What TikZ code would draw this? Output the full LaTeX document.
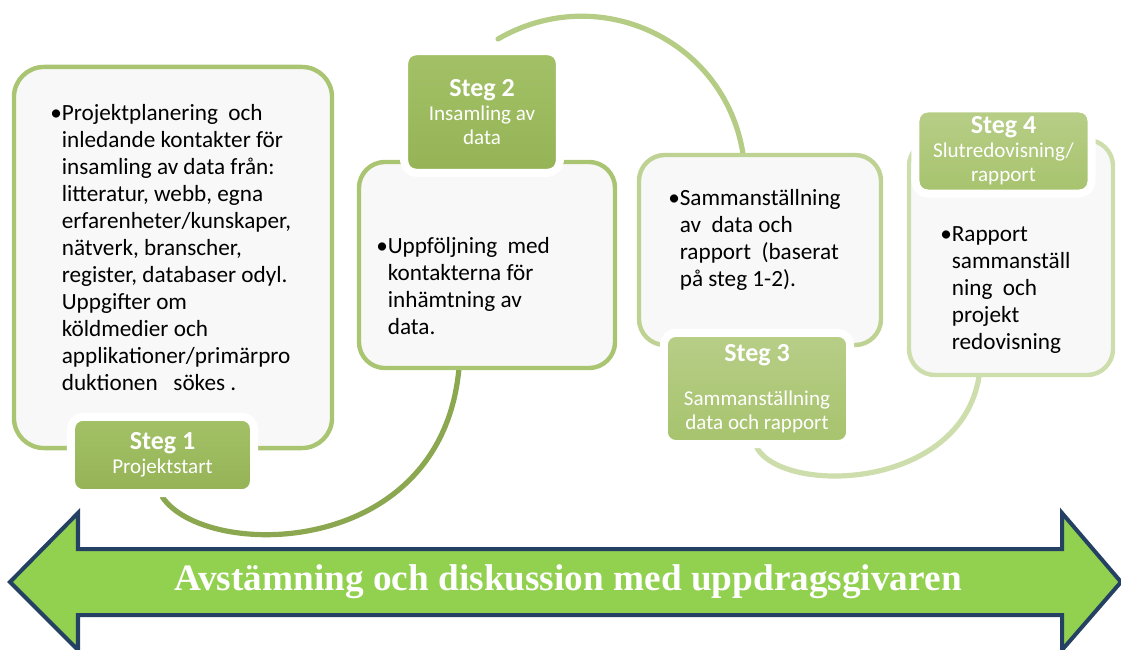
\documentclass[tikz,border=0pt]{standalone}
\usepackage{fontspec}
\setmainfont{Carlito}
\newfontfamily\bannerfont{Liberation Serif}
\usetikzlibrary{shadows,backgrounds}

\definecolor{stepgreen}{RGB}{155,187,89}
\definecolor{bannergreen}{RGB}{146,208,80}
\definecolor{bannerblue}{RGB}{36,64,98}

\tikzset{text_box/.style={draw=stepgreen!85!white, line width=0.11cm, rounded corners=0.65cm, fill=white!97!black, fill opacity=0.9}}
\tikzset{step_label/.style={draw=white, line width=0.2cm, rounded corners=0.3cm, top color=stepgreen!92!white, bottom color=stepgreen!96!black, text=white, align=center, inner sep=0pt, font=\fontsize{15}{17}\selectfont, drop shadow={opacity=0.3, shadow xshift=0.05cm, shadow yshift=-0.08cm}}}
\tikzset{body_text/.style={anchor=base west, inner sep=0pt, align=left, font=\fontsize{16.5}{19.2}\selectfont}}
\tikzset{flow_arc/.style={line width=0.13cm, line cap=round}}

\newcommand{\stegtitle}[1]{{\fontsize{18.5}{21}\selectfont\bfseries #1}}
\newcommand{\bulletpad}{\phantom{\textbullet}}

\begin{document}
\begin{tikzpicture}[x=0.025cm, y=-0.025cm]
  \useasboundingbox (0,0) rectangle (1121,650);
  \clip (0,0) rectangle (1121,650);

  % text boxes
  \draw (173,257.5) node[text_box, minimum width=7.95cm, minimum height=9.525cm, rounded corners=0.75cm] (box1) {};
  \draw (487,265) node[text_box, minimum width=6.4cm, minimum height=5.15cm] (box2) {};
  \draw (760,250) node[text_box, minimum width=6.05cm, minimum height=4.75cm, draw=stepgreen!65!white] (box3) {};
  \draw (1011,257.5) node[text_box, minimum width=5.1cm, minimum height=5.875cm, draw=stepgreen!50!white] (box4) {};

  % box texts (anchored at the last baseline)
  \draw (50,390) node[body_text] (text1) {\textbullet Projektplanering\ \ och\\
    \bulletpad inledande kontakter för\\
    \bulletpad insamling av data från:\\
    \bulletpad litteratur, webb, egna\\
    \bulletpad erfarenheter/kunskaper,\\
    \bulletpad nätverk, branscher,\\
    \bulletpad register, databaser odyl.\\
    \bulletpad Uppgifter om\\
    \bulletpad köldmedier och\\
    \bulletpad applikationer/primärpro\\
    \bulletpad duktionen\ \ \ sökes .};
  \draw (376,334) node[body_text] (text2) {\textbullet Uppföljning\ \ med\\
    \bulletpad kontakterna för\\
    \bulletpad inhämtning av\\
    \bulletpad data.};
  \draw (668,286) node[body_text] (text3) {\textbullet Sammanställning\\
    \bulletpad av\ \ data och\\
    \bulletpad rapport\ \ (baserat\\
    \bulletpad på steg 1-2).};
  \draw (940,349) node[body_text] (text4) {\textbullet Rapport\\
    \bulletpad sammanställ\\
    \bulletpad ning\ \ och\\
    \bulletpad projekt\\
    \bulletpad redovisning};

  % step labels
  \draw (162.5,455) node[step_label, minimum width=4.575cm, minimum height=1.91cm] (step1) {\stegtitle{Steg 1}\\Projektstart};
  \draw (482,112) node[step_label, minimum width=3.89cm, minimum height=3.04cm] (step2) {\stegtitle{Steg 2}\\Insamling av\\data};
  \draw (757,388.5) node[step_label, minimum width=4.66cm, minimum height=2.78cm, top color=stepgreen!72!white, bottom color=stepgreen!88!white] (step3) {\stegtitle{Steg 3}\\[14pt]Sammanställning\\data och rapport};
  \draw (1003.5,151) node[step_label, minimum width=4.4cm, minimum height=2.125cm, top color=stepgreen!72!white, bottom color=stepgreen!88!white] (step4) {\stegtitle{Steg 4}\\Slutredovisning/\\rapport};

  % connecting arcs
  \coordinate (arc_start) at (498,39);
  \begin{scope}[on background layer]
    \draw[flow_arc, stepgreen!90!black] (step1.south) .. controls (205,560) and (440,560) .. (box2.255);
    \draw[flow_arc, stepgreen!75!white] (arc_start) .. controls (598,-19) and (724,39) .. (box3.100);
    \draw[flow_arc, stepgreen!50!white] (step3.south) .. controls (785,495) and (960,490) .. (box4.255);
  \end{scope}

  % banner arrow
  \draw[fill=bannergreen, draw=bannerblue, line width=0.1cm, line join=miter]
    (10,582) -- (78,513) -- (78,549) -- (1062,549) -- (1062,513) -- (1121,582)
    -- (1062,650) -- (1062,615) -- (78,615) -- (78,650) -- cycle;
  \draw (568,582) node[text=white, font=\bannerfont\bfseries\fontsize{26.5}{30}\selectfont] (banner) {Avstämning och diskussion med uppdragsgivaren};
\end{tikzpicture}
\end{document}
